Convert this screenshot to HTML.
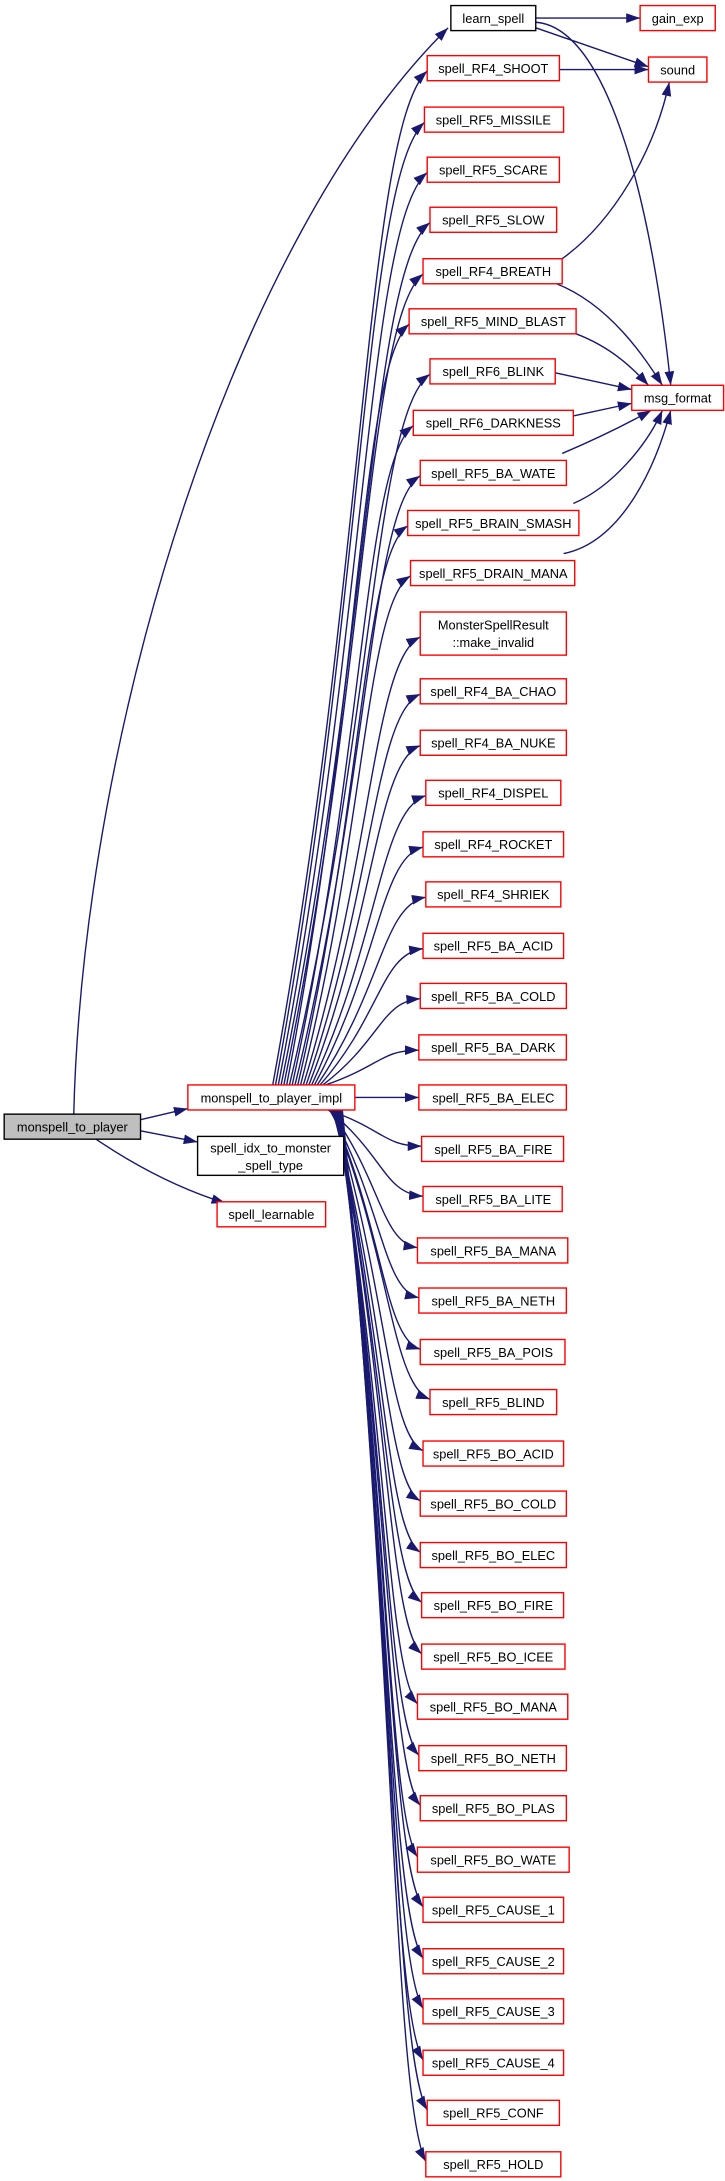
<!DOCTYPE html>
<html><head><meta charset="utf-8"><style>html,body{margin:0;padding:0;background:#fff}svg{display:block}</style></head><body>
<svg width="725" height="2181" viewBox="0 0 521 1568" preserveAspectRatio="none" xmlns="http://www.w3.org/2000/svg">
<defs><marker id="a" markerUnits="userSpaceOnUse" markerWidth="10" markerHeight="7" refX="10" refY="3.5" orient="auto"><path d="M0,0 L10,3.5 L0,7 z" fill="#191970"/></marker></defs>
<g fill="none" stroke="#191970" stroke-width="1" marker-end="url(#a)">
<path d="M53,801 C60,520 170,170 322,20"/>
<path d="M101,805 L135,797"/>
<path d="M101,813 L142,821"/>
<path d="M69,819 C100,840 130,855 162,865"/>
<path d="M385,13 L460,13"/>
<path d="M385,20 L466,48"/>
<path d="M385,16 C440,20 470,160 482,277"/>
<path d="M402,50 L466,50"/>
<path d="M404,186 C440,160 470,110 481,59"/>
<path d="M400,204 C440,220 465,260 476,277"/>
<path d="M414,240 C440,250 455,265 466,277"/>
<path d="M399,268 L454,280"/>
<path d="M412,299 L454,290"/>
<path d="M404,326 C430,315 450,305 468,295"/>
<path d="M412,362 C440,350 465,320 476,295"/>
<path d="M405,398 C445,390 470,340 482,295"/>
<path d="M196,780 C263,414 263,93 307,51"/>
<path d="M198,780 C262,433 262,128 305,88"/>
<path d="M200,780 C264,451 264,161 307,124"/>
<path d="M202,780 C266,469 266,195 309,160"/>
<path d="M204,780 C264,487 264,230 304,197"/>
<path d="M206,780 C259,505 259,264 294,233"/>
<path d="M208,780 C269,523 269,298 309,269"/>
<path d="M210,780 C262,542 262,333 297,306"/>
<path d="M212,780 C266,560 266,366 302,342"/>
<path d="M214,780 C261,578 261,400 293,378"/>
<path d="M216,780 C263,596 263,434 295,414"/>
<path d="M218,780 C268,618 268,475 302,458"/>
<path d="M220,780 C269,638 269,514 302,499"/>
<path d="M222,780 C270,657 270,549 302,536"/>
<path d="M224,780 C273,675 273,583 306,572"/>
<path d="M226,780 C273,693 273,617 304,609"/>
<path d="M228,780 C275,711 275,651 306,645"/>
<path d="M230,780 C274,730 274,686 304,682"/>
<path d="M232,780 C274,748 274,720 302,718"/>
<path d="M234,780 C274,766 274,755 301,755"/>
<path d="M255,789 L301,789"/>
<path d="M236,798 C276,812 276,824 303,824"/>
<path d="M236,798 C276,830 276,858 304,860"/>
<path d="M237,798 C274,848 274,893 300,897"/>
<path d="M237,798 C275,866 275,927 301,933"/>
<path d="M238,798 C276,885 276,962 302,970"/>
<path d="M238,798 C281,903 281,995 309,1006"/>
<path d="M239,798 C278,921 278,1030 304,1043"/>
<path d="M239,798 C277,939 277,1064 302,1079"/>
<path d="M240,798 C277,958 277,1099 302,1116"/>
<path d="M240,798 C278,976 278,1133 303,1152"/>
<path d="M241,798 C279,994 279,1167 303,1189"/>
<path d="M241,798 C278,1012 278,1201 300,1225"/>
<path d="M242,798 C278,1031 278,1236 301,1262"/>
<path d="M242,798 C279,1049 279,1270 302,1298"/>
<path d="M243,798 C279,1067 279,1305 300,1335"/>
<path d="M243,798 C280,1085 280,1339 304,1371"/>
<path d="M244,798 C280,1104 280,1373 304,1408"/>
<path d="M244,798 C281,1122 281,1407 304,1444"/>
<path d="M245,798 C281,1140 281,1442 304,1481"/>
<path d="M245,798 C283,1158 283,1476 307,1517"/>
<path d="M246,798 C283,1177 283,1511 306,1554"/>
</g>
<g stroke="#ff0000" stroke-width="1" fill="#fff">
<rect x="135" y="780" width="120" height="18"/>
<rect x="156" y="864" width="78" height="18"/>
<rect x="460" y="4" width="54" height="18"/>
<rect x="466" y="41" width="42" height="18"/>
<rect x="454" y="277" width="66" height="18"/>
<rect x="307" y="40" width="95" height="18"/>
<rect x="305" y="77" width="100" height="18"/>
<rect x="307" y="113" width="95" height="18"/>
<rect x="309" y="149" width="91" height="18"/>
<rect x="304" y="186" width="100" height="18"/>
<rect x="294" y="222" width="120" height="18"/>
<rect x="309" y="258" width="90" height="18"/>
<rect x="297" y="295" width="115" height="18"/>
<rect x="302" y="331" width="105" height="18"/>
<rect x="293" y="367" width="123" height="18"/>
<rect x="295" y="403" width="118" height="18"/>
<rect x="302" y="440" width="105" height="31"/>
<rect x="302" y="488" width="105" height="18"/>
<rect x="302" y="525" width="105" height="18"/>
<rect x="306" y="561" width="97" height="18"/>
<rect x="304" y="598" width="101" height="18"/>
<rect x="306" y="634" width="97" height="18"/>
<rect x="304" y="671" width="101" height="18"/>
<rect x="302" y="707" width="105" height="18"/>
<rect x="301" y="744" width="106" height="18"/>
<rect x="301" y="780" width="106" height="18"/>
<rect x="303" y="817" width="102" height="18"/>
<rect x="304" y="853" width="100" height="18"/>
<rect x="300" y="890" width="108" height="18"/>
<rect x="301" y="926" width="106" height="18"/>
<rect x="302" y="963" width="104" height="18"/>
<rect x="309" y="999" width="91" height="18"/>
<rect x="304" y="1036" width="101" height="18"/>
<rect x="302" y="1072" width="105" height="18"/>
<rect x="302" y="1109" width="105" height="18"/>
<rect x="303" y="1145" width="102" height="18"/>
<rect x="303" y="1182" width="103" height="18"/>
<rect x="300" y="1218" width="108" height="18"/>
<rect x="301" y="1255" width="106" height="18"/>
<rect x="302" y="1291" width="105" height="18"/>
<rect x="300" y="1328" width="109" height="18"/>
<rect x="304" y="1364" width="101" height="18"/>
<rect x="304" y="1401" width="101" height="18"/>
<rect x="304" y="1437" width="101" height="18"/>
<rect x="304" y="1474" width="101" height="18"/>
<rect x="307" y="1510" width="95" height="18"/>
<rect x="306" y="1547" width="97" height="18"/>
</g>
<g stroke="#000" stroke-width="1">
<rect x="3" y="801" width="98" height="18" fill="#bfbfbf"/>
<rect x="142" y="817" width="105" height="28" fill="#fff"/>
<rect x="324" y="4" width="61" height="18" fill="#fff"/>
</g>
<g font-family="Liberation Sans, sans-serif" font-size="9.2" fill="#000" text-anchor="middle">
<text x="52" y="813.5">monspell_to_player</text>
<text x="195" y="792.5">monspell_to_player_impl</text>
<text x="194.5" y="828.5">spell_idx_to_monster</text>
<text x="194.5" y="841">_spell_type</text>
<text x="195" y="876.5">spell_learnable</text>
<text x="354.5" y="16.5">learn_spell</text>
<text x="487" y="16.5">gain_exp</text>
<text x="487" y="53.5">sound</text>
<text x="487" y="289.5">msg_format</text>
<text x="354.5" y="52.5">spell_RF4_SHOOT</text>
<text x="354.5" y="89.5">spell_RF5_MISSILE</text>
<text x="354.5" y="125.5">spell_RF5_SCARE</text>
<text x="354.5" y="161.5">spell_RF5_SLOW</text>
<text x="354.5" y="198.5">spell_RF4_BREATH</text>
<text x="354.5" y="234.5">spell_RF5_MIND_BLAST</text>
<text x="354.5" y="270.5">spell_RF6_BLINK</text>
<text x="354.5" y="307.5">spell_RF6_DARKNESS</text>
<text x="354.5" y="343.5">spell_RF5_BA_WATE</text>
<text x="354.5" y="379.5">spell_RF5_BRAIN_SMASH</text>
<text x="354.5" y="415.5">spell_RF5_DRAIN_MANA</text>
<text x="354.5" y="452.5">MonsterSpellResult</text>
<text x="354.5" y="465">::make_invalid</text>
<text x="354.5" y="500.5">spell_RF4_BA_CHAO</text>
<text x="354.5" y="537.5">spell_RF4_BA_NUKE</text>
<text x="354.5" y="573.5">spell_RF4_DISPEL</text>
<text x="354.5" y="610.5">spell_RF4_ROCKET</text>
<text x="354.5" y="646.5">spell_RF4_SHRIEK</text>
<text x="354.5" y="683.5">spell_RF5_BA_ACID</text>
<text x="354.5" y="719.5">spell_RF5_BA_COLD</text>
<text x="354.5" y="756.5">spell_RF5_BA_DARK</text>
<text x="354.5" y="792.5">spell_RF5_BA_ELEC</text>
<text x="354.5" y="829.5">spell_RF5_BA_FIRE</text>
<text x="354.5" y="865.5">spell_RF5_BA_LITE</text>
<text x="354.5" y="902.5">spell_RF5_BA_MANA</text>
<text x="354.5" y="938.5">spell_RF5_BA_NETH</text>
<text x="354.5" y="975.5">spell_RF5_BA_POIS</text>
<text x="354.5" y="1011.5">spell_RF5_BLIND</text>
<text x="354.5" y="1048.5">spell_RF5_BO_ACID</text>
<text x="354.5" y="1084.5">spell_RF5_BO_COLD</text>
<text x="354.5" y="1121.5">spell_RF5_BO_ELEC</text>
<text x="354.5" y="1157.5">spell_RF5_BO_FIRE</text>
<text x="354.5" y="1194.5">spell_RF5_BO_ICEE</text>
<text x="354.5" y="1230.5">spell_RF5_BO_MANA</text>
<text x="354.5" y="1267.5">spell_RF5_BO_NETH</text>
<text x="354.5" y="1303.5">spell_RF5_BO_PLAS</text>
<text x="354.5" y="1340.5">spell_RF5_BO_WATE</text>
<text x="354.5" y="1376.5">spell_RF5_CAUSE_1</text>
<text x="354.5" y="1413.5">spell_RF5_CAUSE_2</text>
<text x="354.5" y="1449.5">spell_RF5_CAUSE_3</text>
<text x="354.5" y="1486.5">spell_RF5_CAUSE_4</text>
<text x="354.5" y="1522.5">spell_RF5_CONF</text>
<text x="354.5" y="1559.5">spell_RF5_HOLD</text>
</g>
</svg>
</body></html>
